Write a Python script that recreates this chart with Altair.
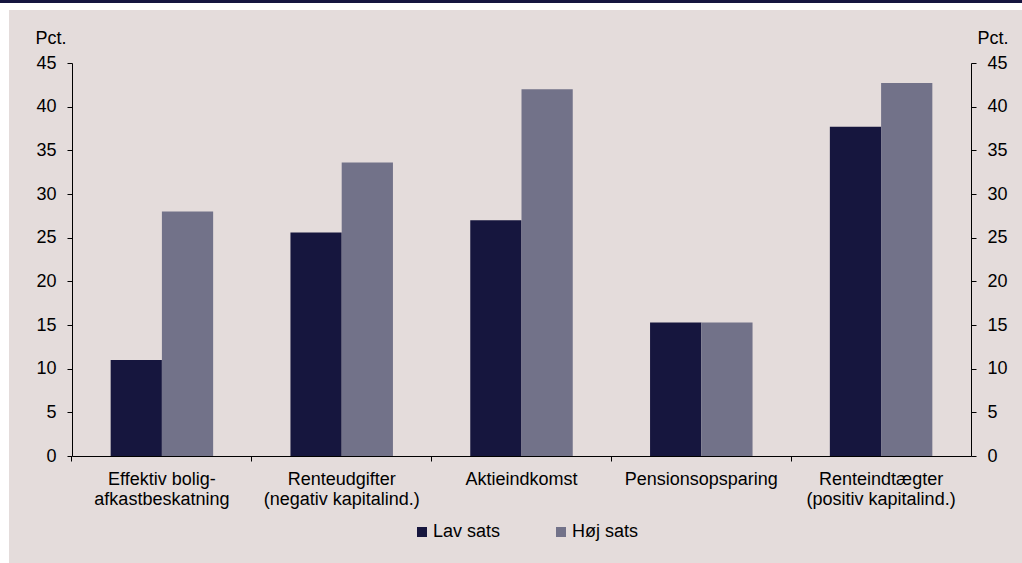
import altair as alt
import pandas as pd

# Category labels; "|" marks the line break used by the axis label expression
categories = [
    "Effektiv bolig-|afkastbeskatning",
    "Renteudgifter|(negativ kapitalind.)",
    "Aktieindkomst",
    "Pensionsopsparing",
    "Renteindtægter|(positiv kapitalind.)",
]
series = ["Lav sats", "Høj sats"]
lav_sats = [11.0, 25.6, 27.0, 15.3, 37.7]
hoj_sats = [28.0, 33.6, 42.0, 15.3, 42.7]
y_ticks = [0, 5, 10, 15, 20, 25, 30, 35, 40, 45]
series_colors = ["#16163e", "#727289"]

rows = []
for cat, low, high in zip(categories, lav_sats, hoj_sats):
    rows.append({"kategori": cat, "serie": series[0], "pct": low})
    rows.append({"kategori": cat, "serie": series[1], "pct": high})
df = pd.DataFrame(rows)

W, H = 899, 393
PAD = {"left": 72, "top": 63, "right": 51, "bottom": 107}
FONT = "Liberation Sans"
FS = 18
P_INNER = 0.43
P_OUTER = P_INNER / 2
# shift from a band's start to the midpoint of the gap before it, in band widths
GAP_SHIFT = -(P_INNER / 2) / (1 - P_INNER)

x_scale = alt.Scale(domain=categories, paddingInner=P_INNER, paddingOuter=P_OUTER)
y_scale = alt.Scale(domain=[0, 45], nice=False, zero=True)

one = pd.DataFrame({"k": [0]})

# beige panel behind the chart and the thin navy band along the top edge
panel = alt.Chart(one).mark_rect(color="#e4dcdb").encode(
    x=alt.value(-63), x2=alt.value(W + PAD["right"]),
    y=alt.value(-53), y2=alt.value(H + PAD["bottom"]),
)
top_band = alt.Chart(one).mark_rect(color="#16163f").encode(
    x=alt.value(-PAD["left"]), x2=alt.value(W + PAD["right"]),
    y=alt.value(-PAD["top"]), y2=alt.value(-PAD["top"] + 3),
)

y_axis_common = dict(
    values=y_ticks, grid=False, title="Pct.", titleAngle=0, titleY=-20,
    titleAlign="left", titleBaseline="alphabetic", titleFont=FONT,
    titleFontSize=FS, titleFontWeight="normal", titleColor="black",
    labelFont=FONT, labelFontSize=FS, labelColor="black", labelPadding=11,
    tickSize=5, tickColor="black", domainColor="black", domainWidth=1,
    zindex=1,
)

bars = alt.Chart(df).mark_bar().encode(
    x=alt.X(
        "kategori:N", scale=x_scale, sort=categories,
        axis=alt.Axis(
            orient="bottom", title=None, labelAngle=0,
            labelExpr="split(datum.label, '|')",
            labelFont=FONT, labelFontSize=FS, labelColor="black",
            labelLineHeight=20, labelPadding=14, ticks=False,
            domainColor="black", domainWidth=1, labelBaseline="top",
            zindex=1,
        ),
    ),
    xOffset=alt.XOffset("serie:N", sort=series, scale=alt.Scale(paddingInner=0, paddingOuter=0)),
    y=alt.Y("pct:Q", scale=y_scale, axis=alt.Axis(orient="left", titleX=-37, **y_axis_common)),
    color=alt.Color(
        "serie:N", sort=series,
        scale=alt.Scale(domain=series, range=series_colors),
        legend=alt.Legend(
            orient="none", legendX=341, legendY=460, direction="horizontal",
            title=None, symbolType="square", symbolSize=100, symbolStrokeWidth=0,
            symbolOpacity=1, labelFont=FONT, labelFontSize=FS, labelColor="black",
            labelOffset=2, columnPadding=51, padding=0,
        ),
    ),
)

# invisible copy that carries the category boundary ticks and the right-hand axis
bounds = alt.Chart(df).mark_bar(opacity=0).encode(
    x=alt.X(
        "kategori:N", scale=x_scale, sort=categories,
        axis=alt.Axis(
            orient="bottom", title=None, labels=False, domain=False,
            ticks=True, tickSize=5, tickColor="black", bandPosition=GAP_SHIFT,
            zindex=1,
        ),
    ),
    y=alt.Y("pct:Q", scale=y_scale, axis=alt.Axis(orient="right", titleX=6, **y_axis_common)),
)

chart = (
    alt.layer(panel, top_band, bars, bounds)
    .resolve_axis(x="independent", y="independent")
    .properties(
        width=W, height=H, padding=PAD,
        autosize=alt.AutoSizeParams(type="none"),
        background="white",
    )
    .configure_view(strokeWidth=0)
)

chart.save("out.html", embed_options={"renderer": "svg", "actions": False})
